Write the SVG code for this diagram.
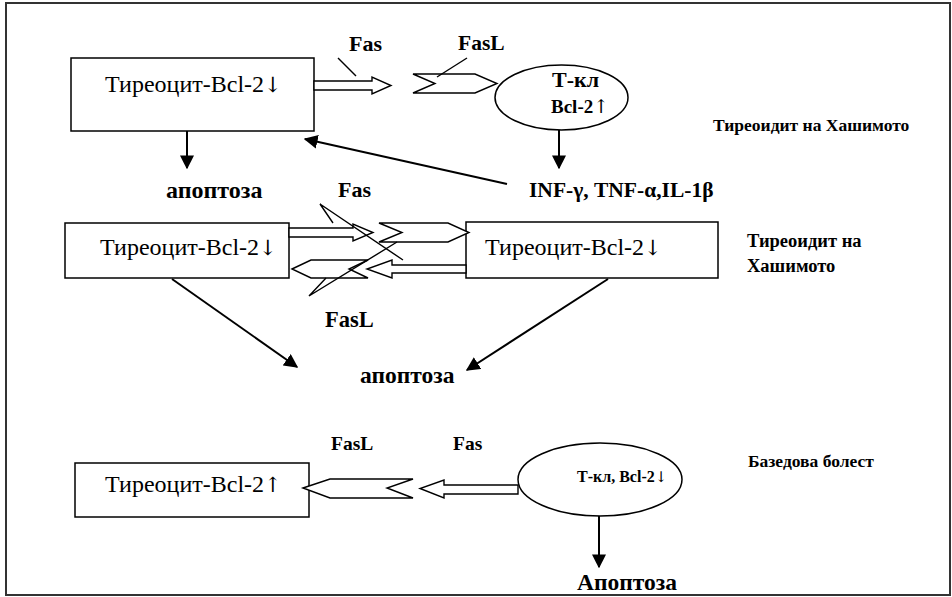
<svg xmlns="http://www.w3.org/2000/svg" width="952" height="597" viewBox="0 0 952 597">
<defs>
<marker id="ah" viewBox="0 0 10 10" refX="9" refY="5" markerWidth="7" markerHeight="7" markerUnits="strokeWidth" orient="auto">
<path d="M0,0 L10,5 L0,10 Z" fill="#000"/>
</marker>
</defs>
<style>
.box{fill:#fff;stroke:#000;stroke-width:1.5}
.blk{fill:#fff;stroke:#000;stroke-width:1.4;stroke-linejoin:miter}
.ln{stroke:#000;stroke-width:1.4;fill:none}
.con{stroke:#000;stroke-width:2;fill:none;marker-end:url(#ah)}
text{font-family:'Liberation Serif','Tinos','DejaVu Serif',serif;fill:#000}
.b{font-weight:bold}
.ar{font-family:'DejaVu Serif','DejaVu Sans',serif;font-weight:normal}
</style>
<rect x="6" y="3" width="944" height="592" fill="#fff" stroke="#333" stroke-width="2"/>

<g id="box1"><rect class="box" x="71" y="58" width="243" height="73"/><text class="t" x="105" y="92" font-size="24">Тиреоцит-Bcl-2<tspan class="ar" font-size="21">↓</tspan></text></g>
<g id="tcell1"><ellipse class="box" cx="561.5" cy="97.5" rx="66.5" ry="32.5"/><text class="b" x="552" y="87" font-size="22">Т-кл</text><text class="b" x="551" y="113" font-size="19">Bcl-2<tspan class="ar" font-size="19">↑</tspan></text></g>
<g id="label-hash1"><text class="b" x="713" y="131" font-size="17.5">Тиреоидит на Хашимото</text></g>
<g id="apop1"><text class="b" x="166" y="198" font-size="24">апоптоза</text></g>
<g id="cyto"><text class="b" x="529" y="197" font-size="21.5">INF-γ, TNF-α,IL-1β</text></g>

<g id="box2"><rect class="box" x="65" y="223" width="224" height="55"/><text class="t" x="100" y="255" font-size="24">Тиреоцит-Bcl-2<tspan class="ar" font-size="21">↓</tspan></text></g>
<g id="box3"><rect class="box" x="466" y="222" width="252" height="56"/><text class="t" x="485" y="255" font-size="24">Тиреоцит-Bcl-2<tspan class="ar" font-size="21">↓</tspan></text></g>
<g id="label-hash2"><text class="b" x="747" y="247" font-size="18.5">Тиреоидит на</text><text class="b" x="747" y="272" font-size="18.5">Хашимото</text></g>
<g id="apop2"><text class="b" x="360" y="383" font-size="23.5">апоптоза</text></g>

<g id="box4"><rect class="box" x="75" y="463" width="234" height="54"/><text class="t" x="105" y="492" font-size="24">Тиреоцит-Bcl-2<tspan class="ar" font-size="21">↑</tspan></text></g>
<g id="tcell2"><ellipse class="box" cx="600" cy="479.5" rx="82" ry="36.5"/><text class="b" x="577" y="482" font-size="16">Т-кл, Bcl-2<tspan class="ar" font-weight="bold" font-size="15">↓</tspan></text></g>
<g id="label-graves"><text class="b" x="748" y="467" font-size="17.5">Базедова болест</text></g>
<g id="apop3"><text class="b" x="577" y="590" font-size="23.5">Апоптоза</text></g>

<g id="connectors">
<path class="blk" d="M314,81 L372,81 L372,77 L391,85.5 L372,94 L372,90 L314,90 Z"/>
<path class="blk" d="M413,74 L475,74 L497,83.5 L475,93 L413,93 L435,83.5 Z"/>
<line class="ln" x1="338" y1="58" x2="356" y2="76"/>
<line class="ln" x1="467" y1="58" x2="437" y2="77"/>
<text class="b" x="349" y="51" font-size="22">Fas</text>
<text class="b" x="458" y="50" font-size="21.5">FasL</text>
<line class="con" x1="187" y1="131" x2="187" y2="168"/>
<line class="con" x1="559" y1="130" x2="559" y2="168"/>
<line class="con" x1="507" y1="184" x2="305" y2="139"/>

<path class="blk" d="M289,228 L353,228 L353,224 L373,232.5 L353,241 L353,237 L289,237 Z"/>
<path class="blk" d="M379,223 L448,223 L469,232.5 L448,242 L379,242 L402,232.5 Z"/>
<path class="blk" d="M466,265 L392,265 L392,260 L367,269 L392,278 L392,273 L466,273 Z"/>
<path class="blk" d="M292,269 L311,260 L368,260 L349,269 L368,278 L311,278 Z"/>
<polyline class="ln" points="333,223 320,204 403,260"/>
<polyline class="ln" points="326,278 309,296 397,242"/>
<text class="b" x="338" y="197" font-size="22">Fas</text>
<text class="b" x="325" y="327" font-size="22.5">FasL</text>
<line class="con" x1="172" y1="279" x2="297" y2="367"/>
<line class="con" x1="608" y1="279" x2="467" y2="370"/>

<path class="blk" d="M303,488 L330,479 L413,479 L387,488 L413,498 L330,498 Z"/>
<path class="blk" d="M518,485 L444,485 L444,480 L420,488.5 L444,498 L444,494 L518,494 Z"/>
<text class="b" x="331" y="450" font-size="19.5">FasL</text>
<text class="b" x="453" y="450" font-size="19.5">Fas</text>
<line class="con" x1="599" y1="516" x2="599" y2="567"/>
</g>
</svg>
